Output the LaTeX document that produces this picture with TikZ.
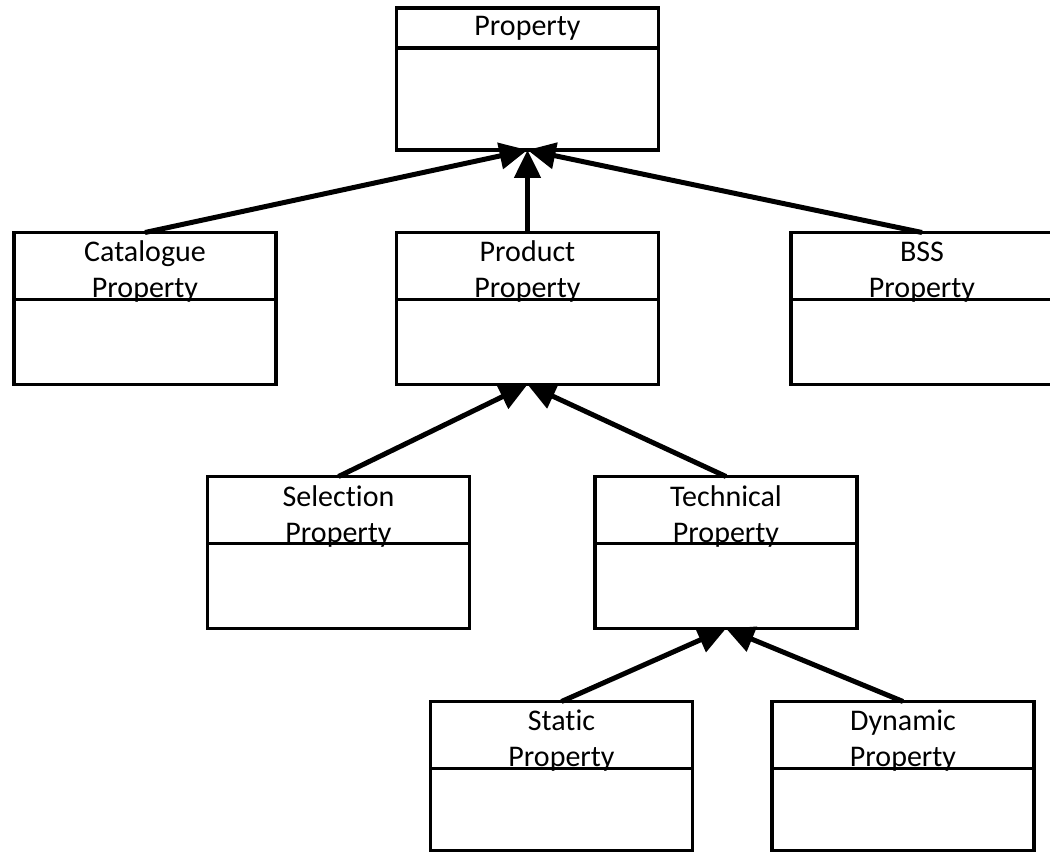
\documentclass[tikz,border=0pt]{standalone}
\usepackage{fontspec}
\setmainfont[Ligatures=NoCommon]{Carlito}
\usetikzlibrary{positioning,arrows.meta}

\tikzset{
  classname/.style={draw,rectangle,line width=3.5pt,outer sep=0pt,inner sep=0pt,
    minimum width=262pt,minimum height=67pt},
  classbody/.style={draw,rectangle,line width=3.5pt,outer sep=0pt,
    minimum width=262pt,minimum height=85pt},
  classtext/.style={yshift=-6pt,align=center,inner sep=0pt,
    font=\fontsize{30}{36}\selectfont}
}

\begin{document}
\begin{tikzpicture}[x=1pt,y=-1pt]
          \useasboundingbox (0,0) rectangle (1050,853);
          \begin{scope}[>={Triangle[length=28pt,width=26pt]}]
            \node (prop) at (527.5,28) [classname,minimum height=40pt,
              label={[classtext,yshift=6pt]center:Property}]{};
            \node (propb) [classbody,minimum height=102pt,below=0pt of prop]{};

            \node (cat) at (145,266) [classname,
              label={[classtext]center:Catalogue\\Property}]{};
            \node (catb) [classbody,below=0pt of cat]{};
            \node (prod) at (527.5,266) [classname,
              label={[classtext]center:Product\\Property}]{};
            \node (prodb) [classbody,below=0pt of prod]{};
            \node (bss) at (922,266) [classname,
              label={[classtext]center:BSS\\Property}]{};
            \node (bssb) [classbody,below=0pt of bss]{};

            \node (sel) at (338.5,510) [classname,
              label={[classtext]center:Selection\\Property}]{};
            \node (selb) [classbody,below=0pt of sel]{};
            \node (tech) at (726,510) [classname,
              label={[classtext]center:Technical\\Property}]{};
            \node (techb) [classbody,below=0pt of tech]{};

            \node (stat) at (561.5,735) [classname,
              label={[classtext]center:Static\\Property}]{};
            \node (statb) [classbody,minimum height=82pt,below=0pt of stat]{};
            \node (dyn) at (903,735) [classname,
              label={[classtext]center:Dynamic\\Property}]{};
            \node (dynb) [classbody,minimum height=82pt,below=0pt of dyn]{};

            \draw[->,line width=5pt] (cat.north) -- (propb.south);
            \draw[->,line width=5pt] (prod.north) -- (propb.south);
            \draw[->,line width=5pt] (bss.north) -- (propb.south);
            \draw[->,line width=5pt] (sel.north) -- (prodb.south);
            \draw[->,line width=5pt] (tech.north) -- (prodb.south);
            \draw[->,line width=5pt] (stat.north) -- (techb.south);
            \draw[->,line width=5pt] (dyn.north) -- (techb.south);

          \end{scope}
          \end{tikzpicture}
\end{document}
